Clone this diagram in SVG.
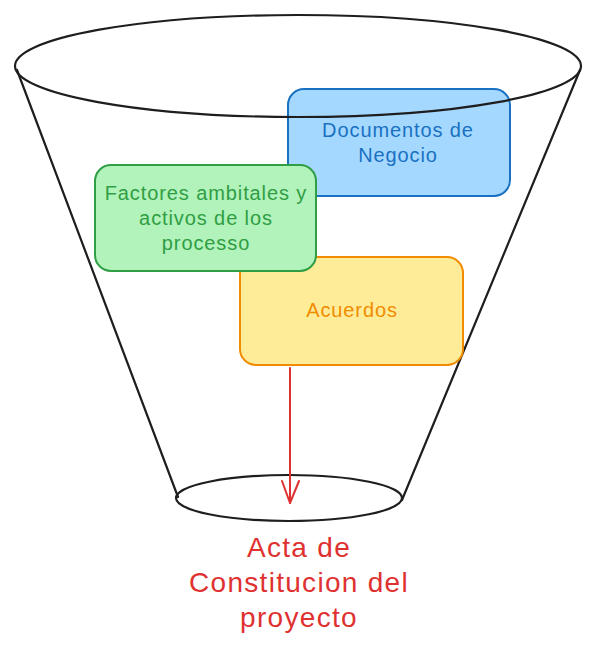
<svg xmlns="http://www.w3.org/2000/svg" width="598" height="653" viewBox="0 0 598 653">
<style>
.t{font-family:"Liberation Sans",Arial,sans-serif;text-anchor:middle;font-size:20px;letter-spacing:0.9px}
.big{font-size:28px;letter-spacing:1.3px}
.funnel{fill:none;stroke:#1e1e1e;stroke-width:2.2;stroke-linecap:round}
</style>
<rect width="598" height="653" fill="#ffffff"/>
<g id="funnel-sides">
<path class="funnel" d="M17,70 L178,497"/>
<path class="funnel" d="M580,70 L402,500"/>
</g>
<g id="bottom-ellipse">
<ellipse class="funnel" cx="289" cy="498" rx="113" ry="23"/>
</g>
<g id="documentos">
<rect x="288" y="89" width="222" height="107" rx="16" fill="#a5d8ff" stroke="#1971c2" stroke-width="2"/>
<text class="t" x="398" y="137" fill="#1971c2">Documentos de</text>
<text class="t" x="398" y="162" fill="#1971c2">Negocio</text>
</g>
<g id="top-ellipse">
<ellipse class="funnel" cx="298" cy="66" rx="283" ry="51"/>
</g>
<g id="acuerdos">
<rect x="240" y="257" width="223" height="108" rx="16" fill="#ffec99" stroke="#f08c00" stroke-width="2"/>
<text class="t" x="352" y="317" fill="#f08c00">Acuerdos</text>
</g>
<g id="factores">
<rect x="95" y="165" width="221" height="106" rx="16" fill="#b2f2bb" stroke="#2f9e44" stroke-width="2"/>
<text class="t" x="206" y="200" fill="#2f9e44">Factores ambitales y</text>
<text class="t" x="206" y="225" fill="#2f9e44">activos de los</text>
<text class="t" x="206" y="250" fill="#2f9e44">processo</text>
</g>
<g id="connectors" fill="none" stroke="#e03131" stroke-width="2" stroke-linecap="round" stroke-linejoin="round">
<path d="M290,368 L290,503"/>
<path d="M282,481 L290,503 L299,481"/>
</g>
<g id="acta">
<text class="t big" x="299" y="557" fill="#e03131">Acta de</text>
<text class="t big" x="299" y="592" fill="#e03131">Constitucion del</text>
<text class="t big" x="299" y="627" fill="#e03131">proyecto</text>
</g>
</svg>
